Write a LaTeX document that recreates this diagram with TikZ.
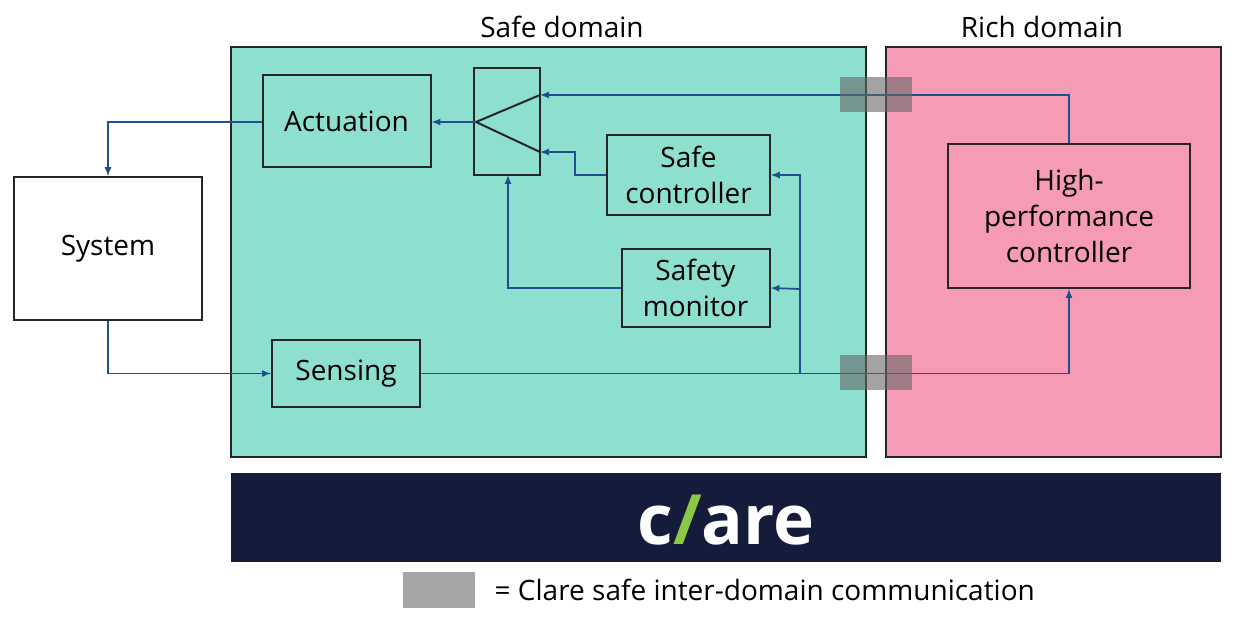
\documentclass[tikz,border=0pt]{standalone}
\usepackage{fontspec}
\setmainfont{Open Sans}
\definecolor{safec}{RGB}{141,223,208}
\definecolor{richc}{RGB}{246,155,182}
\definecolor{navy}{RGB}{21,27,58}
\definecolor{wirec}{RGB}{30,80,140}
\definecolor{lime}{RGB}{140,200,70}
\begin{document}
\begin{tikzpicture}[x=0.75pt,y=-0.75pt,
  box/.style={draw=black!85,line width=1.2pt},
  txt/.style={font=\fontsize{21}{27}\selectfont},
  blk/.style={draw=black!85,line width=1.5pt,align=center,txt,inner sep=0pt},
  wire/.style={draw=wirec,line width=1.3pt},
  arr/.style={wire,-latex},
  comm/.style={fill=gray!80!black,fill opacity=0.6}]
\useasboundingbox (0,0) rectangle (1235,622);
\fill[white] (0,0) rectangle (1235,622);
\draw[box,fill=safec] (231,47) rectangle (866,457);
\draw[box,fill=richc] (886,47) rectangle (1221,457);
\node[txt] (sl) at (562,27) {Safe domain};
\node[txt] (rl) at (1042,27) {Rich domain};
\fill[navy] (231,473) rectangle (1221,562);
\node[white,font=\fontsize{52}{56}\selectfont\bfseries] (logo) at (726,520) {c\textcolor{lime}{/}are};
\fill[gray!70] (403,572) rectangle (475,608);
\node[anchor=west,txt] (leg) at (490,590) {= Clare safe inter-domain communication};
\node[blk,fill=white] (sys) at (108,248.5) {\parbox[c][107pt][c]{141pt}{\centering System}};
\node[blk] (act) at (346.5,121) {\parbox[c][69pt][c]{126pt}{\centering Actuation}};
\node[blk] (mux) at (507,121.5) {\parbox[c][80pt][c]{49pt}{\centering\ }};
\draw[line width=1.5pt,black!85] (540,95) -- (476,122) -- (540,152);
\node[blk] (sc) at (688.5,175) {\parbox[c][60pt][c]{122pt}{\centering Safe\\controller}};
\node[blk] (sm) at (695.5,288) {\parbox[c][58pt][c]{111pt}{\centering Safety\\monitor}};
\node[blk] (sen) at (346,373.5) {\parbox[c][50pt][c]{111pt}{\centering Sensing}};
\node[blk] (hpc) at (1069,216) {\parbox[c][108pt][c]{181pt}{\centering High-\\performance\\controller}};
\coordinate (b1) at (800,373);
\coordinate (b2) at (800,289);
\draw[arr] (act.west |- 0,122) -| (sys.north);
\draw[arr] (476,122) -- (act.east |- 0,122);
\draw[arr] (sys.south) |- (sen.west);
\draw[arr] (sen.east) -| (hpc.south);
\draw[arr] (b1) |- (sc.east);
\draw[arr] (b2) -- (sm.east);
\draw[arr] (sc.west) -- (575,175) |- (540,152);
\draw[arr] (sm.west) -| (508,175);
\draw[arr] (hpc.north) |- (540,95);
\fill[comm] (840,77) rectangle (912,112);
\fill[comm] (840,355) rectangle (912,390);
\end{tikzpicture}
\end{document}
